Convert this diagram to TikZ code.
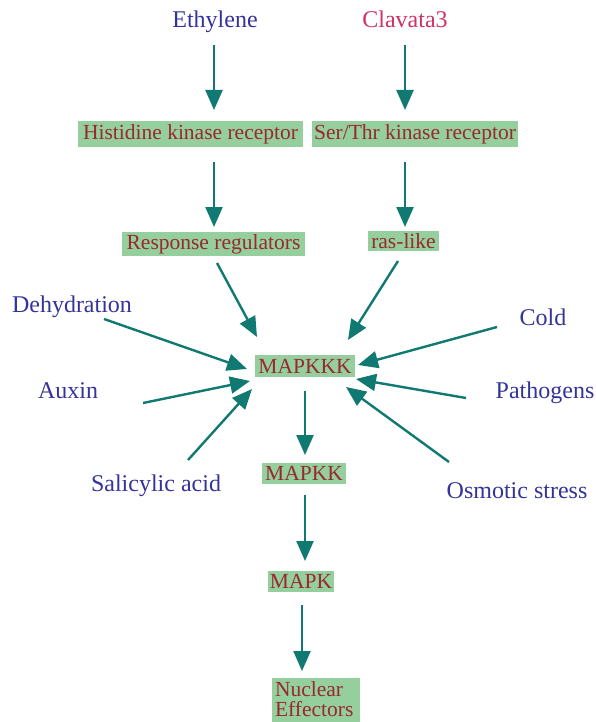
\documentclass[tikz,border=0pt]{standalone}
\usepackage{fontspec}
\setmainfont{Liberation Serif}
\usetikzlibrary{arrows.meta}
\definecolor{lblue}{RGB}{51,51,153}
\definecolor{lmag}{RGB}{204,51,102}
\definecolor{bred}{RGB}{153,40,50}
\definecolor{bgreen}{RGB}{148,207,157}
\definecolor{tealc}{RGB}{16,122,114}
\begin{document}
\begin{tikzpicture}[x=1pt,y=-1pt,
  lbl/.style={text=lblue,font=\fontsize{24}{26}\selectfont,inner sep=0,anchor=base},
  box/.style={fill=bgreen,text=bred,font=\fontsize{21.5}{23}\selectfont,inner sep=0},
  arr/.style={draw=tealc,line width=2.4pt,-{Triangle[length=20pt,width=17pt]}}]
\useasboundingbox (0,0) rectangle (595,722);

% labels
\node[lbl] (eth) at (215,28) {Ethylene};
\node[lbl,text=lmag] (cla) at (405,28) {Clavata3};
\node[lbl] (deh) at (72,312) {Dehydration};
\node[lbl] (aux) at (68,398) {Auxin};
\node[lbl] (sal) at (156,491) {Salicylic acid};
\node[lbl] (cold) at (543,325) {Cold};
\node[lbl] (path) at (545,398) {Pathogens};
\node[lbl] (osm) at (517,498) {Osmotic stress};

% boxes
\node[box,minimum width=225pt,minimum height=26pt] (his) at (190.5,134) {Histidine kinase receptor};
\node[box,minimum width=206pt,minimum height=26pt] (ser) at (415,134) {Ser/Thr kinase receptor};
\node[box,minimum width=183pt,minimum height=24pt] (rr) at (213.5,244) {Response regulators};
\node[box,minimum width=71pt,minimum height=20pt] (ras) at (403.5,241) {ras-like};
\node[box,minimum width=100pt,minimum height=22pt] (mkkk) at (305,366) {MAPKKK};
\node[box,minimum width=84pt,minimum height=21pt] (mkk) at (304,473.5) {MAPKK};
\node[box,minimum width=66pt,minimum height=21pt] (mk) at (301,581.5) {MAPK};
\node[box,minimum width=88pt,minimum height=44pt,text width=82pt,align=left,
      font=\fontsize{21.5}{20}\selectfont] (nuc) at (316,699.5) {Nuclear\\Effectors};

% connector end points
\coordinate (a1) at (214,45);  \coordinate (b1) at (214,110);
\coordinate (a2) at (405,45);  \coordinate (b2) at (405,110);
\coordinate (a3) at (214,162); \coordinate (b3) at (214,227);
\coordinate (a4) at (405,162); \coordinate (b4) at (405,227);
\coordinate (a5) at (217,263); \coordinate (b5) at (257,337);
\coordinate (a6) at (398,261); \coordinate (b6) at (348,340);
\coordinate (a7) at (104,319); \coordinate (b7) at (247,369);
\coordinate (a8) at (143,403); \coordinate (b8) at (250,381);
\coordinate (a9) at (188,460); \coordinate (b9) at (252,389);
\coordinate (a10) at (497,327); \coordinate (b10) at (358,365);
\coordinate (a11) at (466,398); \coordinate (b11) at (356,379);
\coordinate (a12) at (449,462); \coordinate (b12) at (346,387);
\coordinate (a13) at (305,391); \coordinate (b13) at (305,455);
\coordinate (a14) at (305,495); \coordinate (b14) at (305,561);
\coordinate (a15) at (302,605); \coordinate (b15) at (302,671);

\foreach \i in {1,...,15} {\draw[arr] (a\i) -- (b\i);}
\end{tikzpicture}
\end{document}
